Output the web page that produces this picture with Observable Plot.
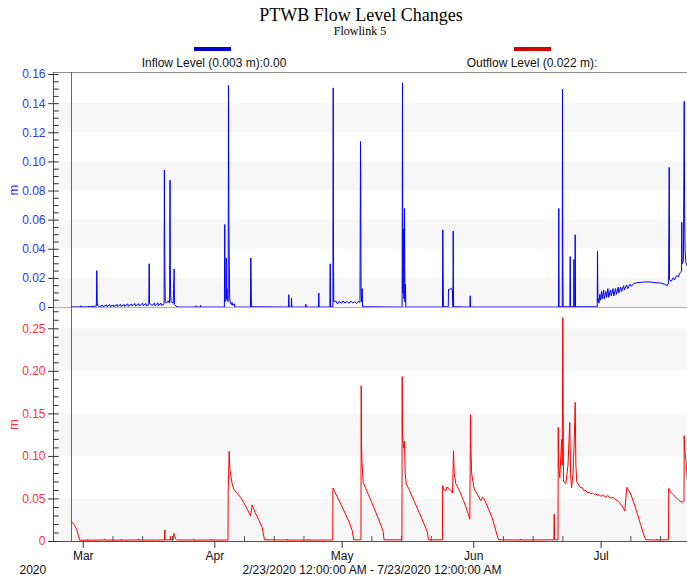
<!DOCTYPE html>
<html>
<head>
<meta charset="utf-8">
<script src="https://cdn.jsdelivr.net/npm/d3@7"></script>
<script src="https://cdn.jsdelivr.net/npm/@observablehq/plot@0.6"></script>
<style>
  html, body { margin: 0; padding: 0; background: #fff; }
  #root { position: relative; width: 687px; height: 580px; overflow: hidden; background: #fff; font-family: "Liberation Sans", Arial, sans-serif; }
  .abs { position: absolute; white-space: nowrap; }
  .c { transform: translateX(-50%); }
  .title { font-family: "Liberation Serif", "Times New Roman", serif; color: #000; }
  .lbl { font-size: 12px; line-height: 12px; color: #111; }
  #top, #bottom { position: absolute; left: 0; }
  #top { top: 60px; } #bottom { top: 307px; }
</style>
</head>
<body>
<div id="root">
  <div id="top"></div>
  <div id="bottom"></div>
  <div class="abs c title" style="left:361px;top:7px;font-size:18px;line-height:17px;">PTWB Flow Level Changes</div>
  <div class="abs c title" style="left:360px;top:26px;font-size:12px;line-height:11px;">Flowlink 5</div>
  <div class="abs" style="left:194px;top:47px;width:37px;height:4px;background:#0000c8;"></div>
  <div class="abs" style="left:514px;top:47px;width:37px;height:4px;background:#d00000;"></div>
  <div class="abs c lbl" style="left:214px;top:57px;">Inflow Level (0.003 m):0.00</div>
  <div class="abs c lbl" style="left:532px;top:57px;">Outflow Level (0.022 m):</div>
  <div class="abs lbl" style="left:19.5px;top:564px;">2020</div>
  <div class="abs c lbl" style="left:372px;top:564px;">2/23/2020 12:00:00 AM - 7/23/2020 12:00:00 AM</div>
</div>
<script>
// ---------- data (day offsets from 2020-02-23 00:00, value in m) ----------
const inflow = [
  [4.24,0.0004],[6.4,0.0004],[6.45,0.0012],[6.5,0.0004],[8.2,0.0004],[8.25,0.001],[8.3,0.0004],
  [10.1,0.001],[10.2,0.0253],[10.3,0.003],[10.45,0.0012],[10.8,0.0005],
  [11.6,0.0015],[11.7,0.0005],[12.5,0.0018],[12.6,0.0006],[13.3,0.002],[13.4,0.0007],[14.1,0.0016],[14.2,0.0006],
  [15.0,0.002],[15.1,0.0007],[15.8,0.0022],[15.9,0.0008],[16.7,0.002],[16.8,0.0008],[17.5,0.0025],[17.6,0.0009],
  [18.4,0.0024],[18.5,0.001],[19.2,0.0028],[19.3,0.001],[20.1,0.0026],[20.2,0.001],[21.0,0.003],[21.1,0.0012],
  [21.8,0.0028],[21.9,0.0012],
  [22.45,0.002],[22.54,0.030],[22.62,0.003],[23.2,0.0015],[23.8,0.003],[23.9,0.0012],[24.6,0.0032],[24.7,0.0012],
  [25.3,0.003],[25.4,0.0015],[25.95,0.002],
  [26.05,0.003],[26.12,0.0944],[26.17,0.052],[26.25,0.023],[26.33,0.004],[26.6,0.003],[27.0,0.0045],[27.35,0.003],
  [27.45,0.0875],[27.52,0.029],[27.6,0.008],[27.7,0.004],[28.2,0.003],[28.3,0.013],[28.42,0.0265],[28.5,0.002],
  [28.9,0.0008],[29.5,0.0003],
  [33.5,0.0003],[33.55,0.0012],[33.6,0.0003],[34.6,0.0003],[34.65,0.0014],[34.7,0.0003],[40.25,0.0003],
  [40.35,0.057],[40.42,0.004],[40.6,0.005],[40.68,0.034],[40.76,0.006],[40.88,0.013],[40.95,0.005],[41.15,0.004],
  [41.22,0.1524],[41.32,0.057],[41.42,0.028],[41.5,0.006],[41.7,0.003],[42.0,0.002],[42.05,0.0035],[42.1,0.0015],
  [42.6,0.0025],[42.65,0.0005],[43.0,0.0003],
  [46.4,0.0003],[46.48,0.034],[46.55,0.0225],[46.62,0.0005],
  [55.35,0.0003],[55.43,0.0088],[55.5,0.0003],[56.0,0.0003],[56.07,0.0065],[56.13,0.0003],
  [59.35,0.0003],[59.43,0.0022],[59.55,0.0003],
  [62.42,0.0003],[62.5,0.0099],[62.57,0.0003],
  [65.1,0.0003],[65.18,0.030],[65.25,0.0005],[65.82,0.0005],[65.89,0.1508],[65.95,0.045],[66.02,0.004],
  [66.5,0.0045],[66.9,0.0025],[67.3,0.0042],[67.8,0.0028],[68.2,0.0045],[68.7,0.003],[69.1,0.0043],[69.6,0.0028],
  [70.0,0.0045],[70.5,0.003],[70.9,0.004],[71.4,0.0028],[71.8,0.0042],[72.2,0.0035],
  [72.32,0.114],[72.38,0.0855],[72.45,0.01],[72.6,0.004],[72.72,0.013],[72.8,0.0005],
  [82.12,0.0003],[82.21,0.1543],[82.3,0.01],[82.45,0.054],[82.55,0.006],[82.68,0.068],[82.78,0.004],[82.92,0.016],[83.0,0.0003],
  [91.63,0.0003],[91.71,0.0534],[91.78,0.0265],[91.85,0.0005],
  [93.0,0.0005],[93.05,0.0125],[93.3,0.012],[93.6,0.0132],[93.95,0.0125],[94.1,0.0005],[94.16,0.0525],[94.25,0.0005],
  [98.1,0.0003],[98.16,0.0081],[98.22,0.0003],
  [118.96,0.0003],[119.03,0.068],[119.1,0.0005],[119.84,0.0005],[119.91,0.150],[119.97,0.04],[120.05,0.0005],
  [121.65,0.0005],[121.72,0.035],[121.8,0.0005],[122.55,0.0005],[122.6,0.033],[122.68,0.0005],[122.82,0.0005],
  [122.89,0.050],[122.97,0.0005],
  [128.08,0.0005],[128.15,0.0385],[128.25,0.004],
  [128.3,0.006],[128.5,0.003],[128.7,0.009],[128.85,0.005],[129.1,0.011],[129.25,0.006],[129.6,0.012],[129.75,0.006],
  [130.1,0.011],[130.3,0.007],[130.6,0.013],[130.8,0.007],[131.2,0.012],[131.4,0.008],[131.8,0.013],[132.0,0.008],
  [132.4,0.013],[132.6,0.009],[133.0,0.014],[133.2,0.01],[133.6,0.014],[133.85,0.011],[134.3,0.015],[134.5,0.012],
  [135.0,0.0155],[135.3,0.013],[135.8,0.016],[136.1,0.0145],[136.7,0.0165],[137.4,0.017],[138.2,0.0172],[139.0,0.0175],
  [140.0,0.0176],[141.0,0.0174],[142.0,0.017],[143.0,0.0168],[144.0,0.016],[144.6,0.015],[144.9,0.017],
  [145.04,0.0963],[145.12,0.019],[145.5,0.018],[146.0,0.0205],[146.3,0.019],[146.8,0.022],[147.2,0.021],[147.6,0.024],
  [147.95,0.025],[148.0,0.0585],[148.08,0.03],[148.4,0.032],[148.57,0.1416],[148.68,0.06],[148.78,0.04],
  [148.95,0.031],[149.35,0.028],[150,0.029],[151,0.027]
];
const outflow = [
  [4.24,0.0235],[4.6,0.021],[4.95,0.019],[5.2,0.0165],[5.42,0.015],[5.7,0.010],[5.89,0.007],[6.15,0.0015],
  [8,0.0015],[8.05,0.0025],[8.1,0.0015],[12,0.0018],[12.05,0.003],[12.1,0.0016],[16,0.0017],[16.05,0.0028],[16.1,0.0016],
  [20,0.0018],[20.05,0.003],[20.1,0.0017],[24,0.0017],
  [26.15,0.0017],[26.22,0.0134],[26.3,0.002],[27.5,0.002],[27.55,0.006],[27.6,0.002],[28.2,0.002],[28.35,0.0095],
  [28.55,0.007],[28.75,0.003],[29.0,0.0018],
  [33,0.0017],[33.05,0.003],[33.1,0.0016],[37,0.0018],[37.05,0.0027],[37.1,0.0017],[41.1,0.0017],
  [41.15,0.0576],[41.39,0.106],[41.55,0.085],[41.7,0.079],[42.1,0.0675],[42.47,0.0616],[43.2,0.057],[44.05,0.052],
  [44.9,0.045],[45.63,0.038],[46.41,0.030],[46.81,0.043],[47.5,0.034],[48.3,0.026],[49.16,0.0165],[49.7,0.002],
  [55,0.0017],[55.05,0.0028],[55.1,0.0017],[60,0.0017],[60.05,0.0027],[60.1,0.0016],[65.78,0.0018],
  [65.82,0.0628],[66.2,0.059],[67.5,0.046],[68.8,0.032],[69.7,0.022],[70.37,0.0126],[70.74,0.002],[72.42,0.002],
  [72.49,0.183],[72.55,0.1146],[72.65,0.095],[72.96,0.0694],[74.2,0.055],[75.45,0.04],[76.6,0.026],[77.67,0.0117],
  [77.86,0.002],[82.08,0.002],
  [82.14,0.1938],[82.2,0.128],[82.45,0.11],[82.68,0.118],[82.85,0.08],[83.09,0.0675],[83.7,0.062],[85,0.047],
  [86.5,0.03],[88.03,0.0117],[88.34,0.002],[91.62,0.002],
  [91.66,0.0655],[92.0,0.061],[92.42,0.0596],[92.7,0.064],[93.05,0.063],[93.5,0.06],[93.99,0.057],[94.23,0.1067],
  [94.4,0.08],[94.77,0.068],[95.6,0.06],[96.6,0.048],[97.4,0.037],[98.07,0.0263],[98.23,0.149],[98.3,0.1165],
  [98.5,0.08],[99.1,0.0616],[99.9,0.055],[100.66,0.048],[101.1,0.052],[101.46,0.05],[102.5,0.038],[103.4,0.027],
  [104.2,0.0126],[104.83,0.002],
  [110,0.0017],[110.05,0.0028],[110.1,0.0017],[117.88,0.002],[117.95,0.032],[118.05,0.002],[118.85,0.002],
  [118.9,0.134],[119.0,0.09],[119.27,0.075],[119.6,0.11],[119.74,0.12],[119.85,0.09],[119.98,0.263],[120.14,0.071],
  [120.68,0.068],[121.2,0.09],[121.62,0.14],[121.8,0.08],[122.03,0.063],[122.4,0.08],[122.66,0.1165],[122.9,0.1635],
  [123.05,0.09],[123.27,0.07],[123.8,0.066],[124.2,0.063],[124.4,0.064],[125.02,0.0596],[125.4,0.06],[125.8,0.057],
  [126.2,0.058],[126.6,0.056],[127.0,0.057],[127.4,0.055],[127.8,0.056],[128.15,0.0538],[128.5,0.055],[129.0,0.053],
  [129.5,0.055],[130.0,0.052],[130.5,0.054],[131.29,0.051],[131.8,0.052],[132.4,0.049],[132.9,0.048],[133.26,0.046],
  [133.9,0.042],[134.58,0.036],[135.05,0.0635],[135.5,0.06],[136.0,0.0557],[136.8,0.044],[137.57,0.032],[138.3,0.02],
  [138.99,0.0087],[139.53,0.002],
  [142,0.0017],[142.05,0.0028],[142.1,0.0017],[144.88,0.002],[144.92,0.0624],[145.4,0.058],[145.82,0.0557],
  [146.6,0.052],[147.39,0.048],[148.17,0.046],[148.52,0.047],[148.57,0.1243],[148.75,0.105],[148.95,0.097],
  [149.2,0.08],[149.35,0.07],[150,0.068],[151,0.065]
];
const cursorDay = 4.24;
const topTicks = [0, 0.02, 0.04, 0.06, 0.08, 0.10, 0.12, 0.14, 0.16];
const bottomTicks = [0, 0.05, 0.10, 0.15, 0.20, 0.25];
const topBands = [[0, 0.02], [0.04, 0.06], [0.08, 0.10], [0.12, 0.14]];
const bottomBands = [[0, 0.05], [0.10, 0.15], [0.20, 0.25]];
const monthTicks = ["2020-03-01", "2020-04-01", "2020-05-01", "2020-06-01", "2020-07-01"];
const monthLabels = ["Mar", "Apr", "May", "Jun", "Jul"];
const weekTicks = ["2020-03-08","2020-03-15","2020-03-22","2020-04-08","2020-04-15","2020-04-22",
  "2020-05-08","2020-05-15","2020-05-22","2020-06-08","2020-06-15","2020-06-22","2020-07-08","2020-07-15","2020-07-22"];

// ---------- helpers ----------
const t0 = Date.UTC(2020, 1, 23);
const toDate = d => new Date(t0 + d * 864e5);
const start = toDate(0), end = toDate(151);
const outLen = 1.15, inLen = 1.35; // tick lengths in days (~5px)
const fmtTop = d => d === 0 ? "0" : d.toFixed(2);
const fmtBot = d => d === 0 ? "0" : d.toFixed(2);
const blueText = "#3535ff", redText = "#ff3535";
const style = {background: "transparent", fontFamily: "'Liberation Sans', Arial, sans-serif", fontSize: "12px", overflow: "visible"};

const topMinor = d3.range(0.005, 0.1601, 0.005).filter(v => Math.abs(v / 0.02 - Math.round(v / 0.02)) > 1e-6);
const botMinor = d3.range(0.01, 0.2701, 0.01).filter(v => Math.abs(v / 0.05 - Math.round(v / 0.05)) > 1e-6);

const topChart = Plot.plot({
  width: 687, height: 247, marginTop: 12, marginBottom: 0, marginLeft: 53, marginRight: 0,
  style,
  x: {type: "utc", domain: [start, end], range: [53, 694], axis: null},
  y: {domain: [0, 0.1614], axis: null},
  marks: [
    Plot.rect(topBands, {x1: () => start, x2: () => end, y1: d => d[0], y2: d => d[1], fill: "#f7f7f7"}),
    Plot.ruleY([0.1614], {x1: () => start, x2: () => end, stroke: "#8c8c8c"}),
    Plot.ruleX([toDate(cursorDay)], {stroke: "#666"}),
    Plot.line(inflow, {x: d => toDate(d[0]), y: d => d[1], stroke: "#0000ff", strokeWidth: 1}),
    Plot.ruleX([start], {stroke: "#555"}),
    Plot.ruleY(topTicks, {y: d => d, x1: () => toDate(-outLen), x2: () => toDate(inLen), stroke: "#333"}),
    Plot.ruleY(topMinor, {y: d => d, x1: () => start, x2: () => toDate(inLen), stroke: "#333"}),
    Plot.text(topTicks, {x: () => start, y: d => d, text: fmtTop, textAnchor: "end", dx: -8, fill: blueText, fontSize: 12}),
    Plot.text(["m"], {frameAnchor: "left", dx: -40, rotate: -90, textAnchor: "middle", fill: blueText, fontSize: 13})
  ]
});
document.getElementById("top").appendChild(topChart);

const botChart = Plot.plot({
  width: 687, height: 273, marginTop: 0, marginBottom: 39, marginLeft: 53, marginRight: 0,
  style,
  x: {type: "utc", domain: [start, end], range: [53, 694], axis: null},
  y: {domain: [0, 0.275], axis: null},
  marks: [
    Plot.rect(bottomBands, {x1: () => start, x2: () => end, y1: d => d[0], y2: d => d[1], fill: "#f7f7f7"}),
    Plot.ruleY([0.275], {x1: () => start, x2: () => end, stroke: "#b0b0b0"}),
    Plot.ruleX([toDate(cursorDay)], {stroke: "#666"}),
    Plot.line(outflow, {x: d => toDate(d[0]), y: d => d[1], stroke: "#ff0000", strokeWidth: 1}),
    Plot.ruleX([start], {stroke: "#555"}),
    Plot.ruleY([0], {x1: () => start, x2: () => end, stroke: "#555"}),
    Plot.ruleY(bottomTicks, {y: d => d, x1: () => toDate(-outLen), x2: () => toDate(inLen), stroke: "#333"}),
    Plot.ruleY(botMinor, {y: d => d, x1: () => start, x2: () => toDate(inLen), stroke: "#333"}),
    Plot.ruleX(monthTicks, {x: d => new Date(d), y1: 0, y2: -0.0082, stroke: "#333"}),
    Plot.ruleX(weekTicks, {x: d => new Date(d), y1: 0, y2: 0.0059, stroke: "#555"}),
    Plot.text(monthTicks, {x: d => new Date(d), text: (d, i) => monthLabels[i], frameAnchor: "bottom", lineAnchor: "bottom", dy: 18, fill: "#111", fontSize: 12}),
    Plot.text(bottomTicks, {x: () => start, y: d => d, text: fmtBot, textAnchor: "end", dx: -8, fill: redText, fontSize: 12}),
    Plot.text(["m"], {frameAnchor: "left", dx: -40, rotate: -90, textAnchor: "middle", fill: redText, fontSize: 13})
  ]
});
document.getElementById("bottom").appendChild(botChart);
</script>
</body>
</html>
